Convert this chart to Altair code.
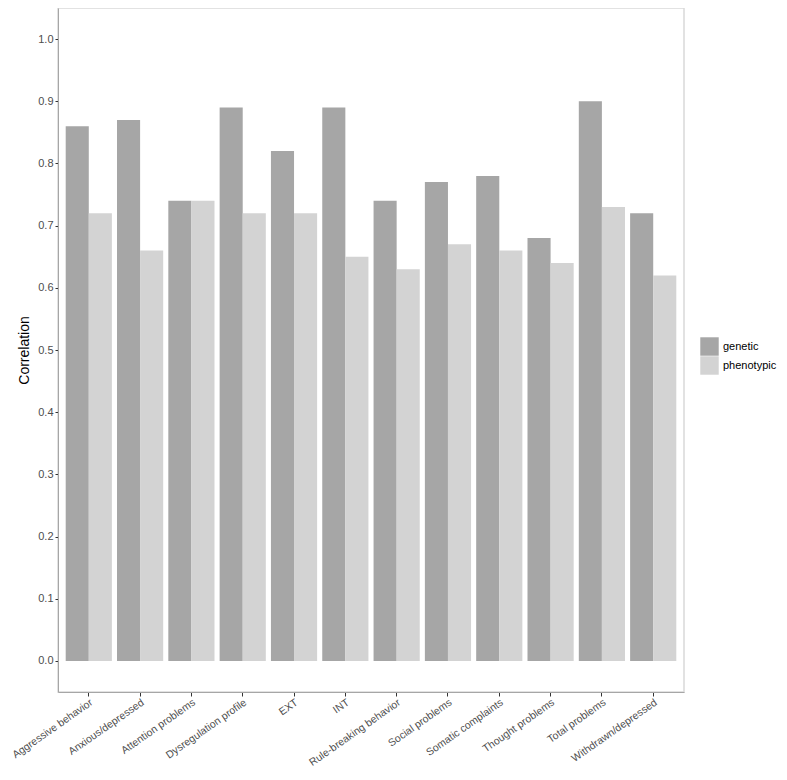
import altair as alt
import pandas as pd

categories = ["Aggressive behavior", "Anxious/depressed", "Attention problems",
              "Dysregulation profile", "EXT", "INT", "Rule-breaking behavior",
              "Social problems", "Somatic complaints", "Thought problems",
              "Total problems", "Withdrawn/depressed"]
genetic = [0.86, 0.87, 0.74, 0.89, 0.82, 0.89, 0.74, 0.77, 0.78, 0.68, 0.90, 0.72]
phenotypic = [0.72, 0.66, 0.74, 0.72, 0.72, 0.65, 0.63, 0.67, 0.66, 0.64, 0.73, 0.62]
groups = ["genetic", "phenotypic"]
y_ticks = [0.0, 0.1, 0.2, 0.3, 0.4, 0.5, 0.6, 0.7, 0.8, 0.9, 1.0]

rows = []
for c, g, p in zip(categories, genetic, phenotypic):
    rows.append({"category": c, "type": "genetic", "value": g})
    rows.append({"category": c, "type": "phenotypic", "value": p})
df = pd.DataFrame(rows)

FONT = "Liberation Sans"

chart = alt.Chart(df).mark_bar().encode(
    x=alt.X("category:N", sort=categories, title=None,
            scale=alt.Scale(paddingInner=0.1, paddingOuter=0.15),
            axis=alt.Axis(labelAngle=-35, labelAlign="right", labelBaseline="top",
                          labelFontSize=10.5, labelColor="#4D4D4D", labelFont=FONT,
                          tickColor="#333333", tickSize=4, labelPadding=1,
                          domainColor="#A6A6A6", labelOverlap=False)),
    xOffset=alt.XOffset("type:N", sort=groups,
                        scale=alt.Scale(paddingInner=0, paddingOuter=0)),
    y=alt.Y("value:Q", title="Correlation",
            scale=alt.Scale(domain=[-0.05, 1.05], nice=False, zero=False),
            axis=alt.Axis(values=y_ticks, format=".1f", grid=False,
                          labelFontSize=11, labelColor="#4D4D4D", labelFont=FONT,
                          tickColor="#333333", tickSize=3, labelPadding=2,
                          domainColor="#A6A6A6", titleFont=FONT, titleFontSize=14,
                          titleFontWeight="normal", titleColor="#000000",
                          titlePadding=6)),
    y2=alt.datum(0),
    color=alt.Color("type:N", sort=groups,
                    scale=alt.Scale(domain=groups, range=["#A6A6A6", "#D3D3D3"]),
                    legend=alt.Legend(title=None, orient="none", legendX=642, legendY=329,
                                      symbolType="square", symbolSize=340,
                                      symbolStrokeWidth=0, symbolOpacity=1,
                                      rowPadding=0, padding=0, labelOffset=4,
                                      labelFont=FONT, labelFontSize=11,
                                      labelColor="#000000")),
).properties(
    width=626, height=684,
    autosize=alt.AutoSizeParams(type="none"),
    padding={"left": 50, "top": 0, "right": 95, "bottom": 76},
).configure_view(
    stroke="#D9D9D9", strokeWidth=1.5
)

chart.save("out.html", embed_options={"renderer": "svg", "actions": False})
